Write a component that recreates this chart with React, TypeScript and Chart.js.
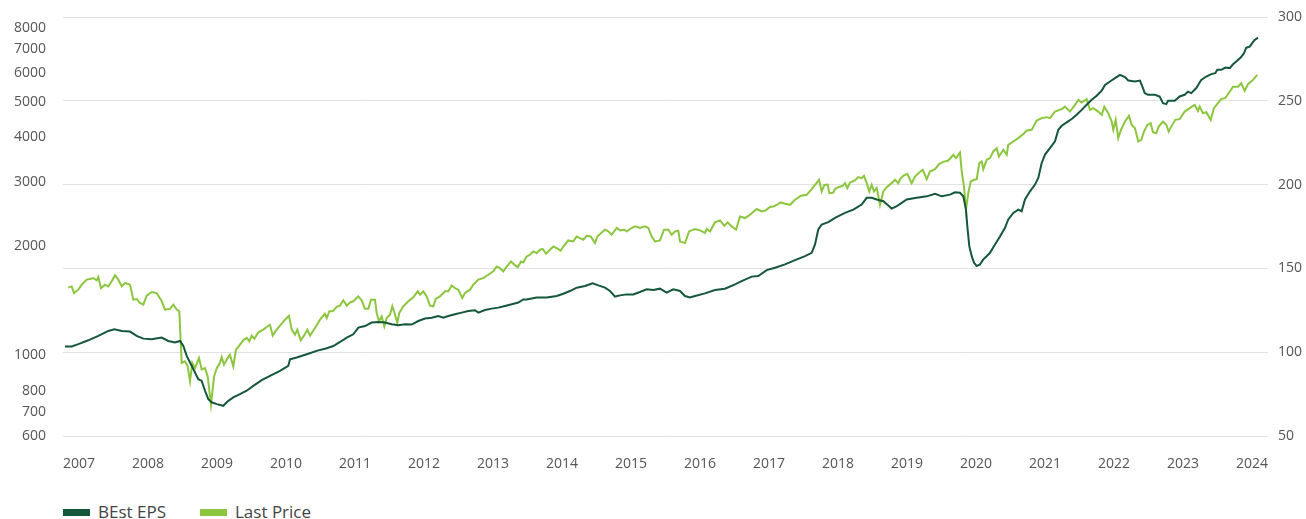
import React, { useEffect, useRef } from "react";
import { Chart, registerables } from "chart.js";

Chart.register(...registerables);

const YEAR_TICKS = [2007, 2008, 2009, 2010, 2011, 2012, 2013, 2014, 2015, 2016, 2017, 2018, 2019, 2020, 2021, 2022, 2023, 2024];
const LEFT_TICKS = [600, 700, 800, 1000, 2000, 3000, 4000, 5000, 6000, 7000, 8000];
const RIGHT_TICKS = [50, 100, 150, 200, 250, 300];
const SERIES_NAMES = ["BEst EPS", "Last Price"];
const SERIES_COLORS = ["#15573a", "#8cc63f"];

// BEst EPS (right axis)
const EPS_DATES = [
  2006.797, 2006.894, 2006.99, 2007.135, 2007.28, 2007.425, 2007.512, 2007.619, 2007.739, 2007.836,
  2007.932, 2008.054, 2008.199, 2008.294, 2008.391, 2008.464, 2008.512, 2008.561, 2008.609, 2008.681,
  2008.729, 2008.778, 2008.826, 2008.874, 2008.923, 2008.996, 2009.091, 2009.164, 2009.236, 2009.333,
  2009.43, 2009.526, 2009.648, 2009.768, 2009.913, 2010.033, 2010.058, 2010.155, 2010.3, 2010.445,
  2010.59, 2010.686, 2010.783, 2010.88, 2010.975, 2011.048, 2011.145, 2011.242, 2011.338, 2011.435,
  2011.532, 2011.628, 2011.725, 2011.822, 2011.917, 2012.014, 2012.112, 2012.207, 2012.28, 2012.352,
  2012.449, 2012.546, 2012.642, 2012.739, 2012.787, 2012.884, 2012.981, 2013.077, 2013.174, 2013.271,
  2013.367, 2013.439, 2013.488, 2013.633, 2013.778, 2013.923, 2014.019, 2014.116, 2014.213, 2014.333,
  2014.445, 2014.526, 2014.623, 2014.696, 2014.768, 2014.841, 2014.938, 2015.033, 2015.13, 2015.228,
  2015.323, 2015.42, 2015.517, 2015.613, 2015.71, 2015.783, 2015.855, 2015.928, 2016.072, 2016.217,
  2016.362, 2016.507, 2016.604, 2016.749, 2016.845, 2016.967, 2017.087, 2017.232, 2017.377, 2017.522,
  2017.619, 2017.667, 2017.714, 2017.764, 2017.859, 2017.957, 2018.101, 2018.222, 2018.343, 2018.416,
  2018.488, 2018.561, 2018.657, 2018.729, 2018.778, 2018.851, 2018.923, 2018.996, 2019.141, 2019.286,
  2019.406, 2019.503, 2019.623, 2019.696, 2019.768, 2019.816, 2019.855, 2019.874, 2019.903, 2019.938,
  2019.971, 2020.01, 2020.058, 2020.106, 2020.155, 2020.203, 2020.275, 2020.348, 2020.42, 2020.468,
  2020.541, 2020.613, 2020.662, 2020.71, 2020.783, 2020.855, 2020.903, 2020.952, 2021.0, 2021.072,
  2021.145, 2021.193, 2021.242, 2021.314, 2021.387, 2021.459, 2021.532, 2021.604, 2021.677, 2021.749,
  2021.822, 2021.87, 2021.942, 2022.014, 2022.087, 2022.159, 2022.207, 2022.304, 2022.377, 2022.42,
  2022.445, 2022.493, 2022.59, 2022.662, 2022.71, 2022.758, 2022.783, 2022.88, 2022.952, 2023.025,
  2023.072, 2023.12, 2023.193, 2023.265, 2023.338, 2023.41, 2023.468, 2023.497, 2023.555, 2023.613,
  2023.677, 2023.725, 2023.772, 2023.836, 2023.884, 2023.917, 2023.967, 2024.0, 2024.039, 2024.087,
];
const EPS_VALUES = [
  103.4, 103.4, 104.8, 107.1, 109.7, 112.7, 113.7, 112.7, 112.3, 109.7,
  108.1, 107.7, 108.7, 106.7, 105.8, 106.7, 103.7, 97.8, 93.9, 87.9,
  83.9, 82.9, 77.0, 72.0, 70.1, 69.0, 68.0, 71.0, 73.0, 75.0,
  77.0, 79.9, 83.3, 85.9, 88.9, 91.8, 95.8, 96.8, 98.8, 100.8,
  102.4, 103.7, 106.1, 108.7, 110.7, 114.7, 115.6, 117.7, 118.0, 117.7,
  116.7, 116.1, 116.7, 116.5, 118.6, 120.1, 120.6, 121.6, 120.6, 121.6,
  122.6, 123.6, 124.6, 125.0, 123.6, 125.2, 126.0, 126.6, 127.6, 128.6,
  129.6, 131.5, 131.5, 132.6, 132.6, 133.5, 134.9, 136.5, 138.5, 139.5,
  141.1, 139.9, 138.5, 136.5, 133.2, 133.9, 134.5, 134.5, 135.9, 137.5,
  137.1, 137.9, 135.5, 137.5, 136.5, 133.5, 132.6, 133.5, 135.1, 137.1,
  137.9, 140.5, 142.4, 145.1, 145.4, 149.0, 150.4, 152.4, 154.9, 157.3,
  159.3, 164.3, 173.2, 176.2, 177.6, 180.2, 183.1, 185.1, 188.1, 192.1,
  192.1, 191.1, 190.1, 187.5, 185.7, 187.1, 189.1, 191.1, 192.1, 193.0,
  194.5, 193.0, 194.0, 195.4, 195.1, 193.0, 185.1, 175.2, 163.3, 157.3,
  153.4, 151.4, 152.4, 155.4, 157.3, 159.3, 164.3, 169.0, 174.2, 179.2,
  183.1, 185.1, 184.1, 191.1, 196.0, 200.0, 204.0, 212.9, 217.9, 221.8,
  225.8, 232.7, 235.1, 237.1, 239.1, 241.7, 244.6, 247.6, 250.6, 253.0,
  256.1, 259.5, 261.5, 263.5, 265.5, 264.1, 262.1, 261.5, 262.1, 257.6,
  254.6, 253.6, 253.6, 252.6, 248.6, 248.0, 250.0, 250.0, 252.6, 253.6,
  255.5, 254.6, 257.6, 262.5, 264.5, 265.9, 266.5, 268.5, 268.5, 269.8,
  269.5, 271.8, 273.4, 275.8, 278.4, 281.7, 282.3, 284.3, 286.3, 287.7,
];

// Last Price (left axis)
const PRICE_DATES = [
  2006.845, 2006.894, 2006.928, 2006.99, 2007.039, 2007.112, 2007.159, 2007.207, 2007.257, 2007.28,
  2007.319, 2007.377, 2007.425, 2007.474, 2007.522, 2007.57, 2007.619, 2007.667, 2007.739, 2007.787,
  2007.836, 2007.884, 2007.932, 2007.981, 2008.054, 2008.126, 2008.199, 2008.246, 2008.319, 2008.367,
  2008.416, 2008.454, 2008.488, 2008.536, 2008.575, 2008.609, 2008.642, 2008.681, 2008.739, 2008.778,
  2008.826, 2008.865, 2008.913, 2008.957, 2008.996, 2009.043, 2009.068, 2009.101, 2009.141, 2009.188,
  2009.236, 2009.275, 2009.333, 2009.381, 2009.43, 2009.468, 2009.503, 2009.541, 2009.599, 2009.671,
  2009.72, 2009.768, 2009.807, 2009.865, 2009.913, 2009.986, 2010.043, 2010.083, 2010.13, 2010.164,
  2010.213, 2010.261, 2010.309, 2010.348, 2010.42, 2010.493, 2010.565, 2010.59, 2010.628, 2010.677,
  2010.735, 2010.783, 2010.83, 2010.88, 2010.928, 2010.975, 2011.048, 2011.097, 2011.145, 2011.193,
  2011.232, 2011.29, 2011.314, 2011.348, 2011.387, 2011.425, 2011.459, 2011.507, 2011.541, 2011.58,
  2011.613, 2011.642, 2011.7, 2011.772, 2011.845, 2011.909, 2011.942, 2011.99, 2012.039, 2012.087,
  2012.135, 2012.17, 2012.232, 2012.304, 2012.352, 2012.401, 2012.449, 2012.497, 2012.555, 2012.594,
  2012.667, 2012.714, 2012.787, 2012.859, 2012.932, 2013.004, 2013.054, 2013.101, 2013.149, 2013.199,
  2013.261, 2013.309, 2013.358, 2013.406, 2013.439, 2013.488, 2013.536, 2013.584, 2013.633, 2013.681,
  2013.72, 2013.768, 2013.826, 2013.874, 2013.923, 2013.981, 2014.019, 2014.091, 2014.164, 2014.213,
  2014.261, 2014.309, 2014.358, 2014.416, 2014.478, 2014.512, 2014.575, 2014.623, 2014.671, 2014.72,
  2014.793, 2014.841, 2014.899, 2014.938, 2015.01, 2015.058, 2015.13, 2015.203, 2015.251, 2015.3,
  2015.348, 2015.42, 2015.478, 2015.541, 2015.59, 2015.638, 2015.686, 2015.71, 2015.783, 2015.841,
  2015.928, 2016.0, 2016.072, 2016.097, 2016.145, 2016.217, 2016.29, 2016.352, 2016.401, 2016.459,
  2016.522, 2016.58, 2016.652, 2016.725, 2016.822, 2016.894, 2016.952, 2017.014, 2017.062, 2017.112,
  2017.174, 2017.232, 2017.304, 2017.377, 2017.464, 2017.546, 2017.619, 2017.725, 2017.764, 2017.801,
  2017.851, 2017.874, 2017.932, 2017.957, 2018.004, 2018.068, 2018.101, 2018.135, 2018.174, 2018.246,
  2018.294, 2018.343, 2018.377, 2018.416, 2018.454, 2018.488, 2018.522, 2018.561, 2018.609, 2018.657,
  2018.706, 2018.778, 2018.826, 2018.874, 2018.899, 2018.946, 2019.004, 2019.068, 2019.116, 2019.178,
  2019.228, 2019.286, 2019.333, 2019.406, 2019.468, 2019.526, 2019.599, 2019.671, 2019.71, 2019.768,
  2019.793, 2019.826, 2019.855, 2019.888, 2019.923, 2019.971, 2020.01, 2020.048, 2020.083, 2020.106,
  2020.155, 2020.203, 2020.251, 2020.3, 2020.333, 2020.396, 2020.445, 2020.468, 2020.541, 2020.613,
  2020.686, 2020.735, 2020.807, 2020.88, 2020.952, 2021.025, 2021.072, 2021.145, 2021.242, 2021.29,
  2021.362, 2021.435, 2021.483, 2021.532, 2021.604, 2021.652, 2021.7, 2021.772, 2021.822, 2021.859,
  2021.917, 2021.967, 2021.99, 2022.025, 2022.062, 2022.101, 2022.159, 2022.217, 2022.257, 2022.304,
  2022.352, 2022.396, 2022.435, 2022.483, 2022.532, 2022.565, 2022.613, 2022.648, 2022.71, 2022.758,
  2022.793, 2022.83, 2022.888, 2022.952, 2023.025, 2023.097, 2023.17, 2023.217, 2023.242, 2023.29,
  2023.338, 2023.401, 2023.449, 2023.507, 2023.555, 2023.613, 2023.662, 2023.725, 2023.797, 2023.845,
  2023.894, 2023.942, 2024.014, 2024.077,
];
const PRICE_VALUES = [
  1539, 1550, 1486, 1518, 1567, 1618, 1625, 1635, 1611, 1646,
  1533, 1567, 1550, 1601, 1662, 1618, 1550, 1584, 1567, 1425,
  1431, 1395, 1380, 1461, 1496, 1486, 1410, 1338, 1344, 1380,
  1338, 1324, 954, 964, 933, 849, 954, 923, 984, 915,
  923, 876, 732, 876, 923, 954, 990, 943, 974, 1005,
  933, 1038, 1071, 1101, 1118, 1094, 1134, 1111, 1158, 1178,
  1198, 1215, 1134, 1178, 1208, 1255, 1287, 1178, 1141, 1178,
  1101, 1134, 1178, 1134, 1191, 1255, 1303, 1268, 1324, 1324,
  1361, 1372, 1419, 1372, 1401, 1410, 1455, 1419, 1344, 1344,
  1425, 1425, 1310, 1242, 1281, 1203, 1268, 1295, 1366, 1295,
  1229, 1310, 1366, 1410, 1446, 1502, 1470, 1502, 1455, 1372,
  1366, 1431, 1455, 1502, 1502, 1558, 1533, 1518, 1440, 1486,
  1518, 1567, 1618, 1633, 1669, 1705, 1758, 1740, 1705, 1758,
  1816, 1778, 1751, 1816, 1805, 1874, 1894, 1935, 1915, 1956,
  1965, 1907, 1956, 1996, 1975, 1944, 1996, 2075, 2062, 2127,
  2104, 2084, 2137, 2127, 2040, 2127, 2183, 2221, 2197, 2151,
  2245, 2211, 2221, 2197, 2245, 2268, 2245, 2268, 2245, 2127,
  2062, 2075, 2221, 2221, 2151, 2197, 2207, 2062, 2040, 2197,
  2231, 2211, 2175, 2231, 2197, 2326, 2356, 2276, 2326, 2268,
  2221, 2415, 2391, 2441, 2532, 2494, 2510, 2564, 2574, 2601,
  2640, 2618, 2601, 2686, 2754, 2771, 2874, 3048, 2830, 2952,
  2957, 2801, 2812, 2874, 2910, 2934, 2984, 2892, 2996, 3035,
  3100, 3081, 3125, 2984, 2830, 2952, 2830, 2892, 2601, 2830,
  2910, 2984, 3048, 2984, 3061, 3125, 3166, 2984, 3112, 3193,
  3248, 3061, 3213, 3262, 3372, 3416, 3445, 3571, 3497, 3624,
  3213, 2921, 2521, 2801, 3015, 3048, 3061, 3388, 3423, 3262,
  3460, 3497, 3648, 3726, 3532, 3687, 3571, 3804, 3886, 3970,
  4078, 4166, 4184, 4439, 4507, 4535, 4507, 4699, 4771, 4849,
  4699, 4901, 5061, 4975, 5083, 4750, 4801, 4699, 4600, 4849,
  4651, 4411, 4184, 4459, 3970, 4184, 4411, 4573, 4318, 4225,
  3886, 3928, 4139, 4318, 4366, 4123, 4097, 4271, 4411, 4318,
  4139, 4271, 4459, 4479, 4699, 4801, 4901, 4720, 4849, 4651,
  4681, 4459, 4801, 4955, 5093, 5115, 5278, 5504, 5504, 5625,
  5357, 5589, 5745, 5929,
];

const FONT_FAMILY = "'Open Sans', 'Noto Sans', sans-serif";
const TICK_COLOR = "#555555";

export default function App() {
  const canvasRef = useRef<HTMLCanvasElement | null>(null);

  useEffect(() => {
    const canvas = canvasRef.current;
    if (!canvas) return;
    const tickFont = { family: FONT_FAMILY, size: 14 };
    const chart = new Chart(canvas, {
      type: "line",
      data: {
        datasets: [
          {
            label: SERIES_NAMES[0],
            data: EPS_DATES.map((x, i) => ({ x, y: EPS_VALUES[i] })),
            yAxisID: "yRight",
            borderColor: SERIES_COLORS[0],
            backgroundColor: SERIES_COLORS[0],
            borderWidth: 2,
            pointRadius: 0,
            tension: 0,
          },
          {
            label: SERIES_NAMES[1],
            data: PRICE_DATES.map((x, i) => ({ x, y: PRICE_VALUES[i] })),
            yAxisID: "yLeft",
            borderColor: SERIES_COLORS[1],
            backgroundColor: SERIES_COLORS[1],
            borderWidth: 2,
            pointRadius: 0,
            tension: 0,
          },
        ],
      },
      options: {
        animation: false,
        responsive: true,
        maintainAspectRatio: false,
        events: [],
        layout: { padding: { top: 17, left: 0, right: 0, bottom: 0 } },
        plugins: {
          legend: { display: false },
          tooltip: { enabled: false },
        },
        scales: {
          x: {
            type: "linear",
            min: 2006.768,
            max: 2024.232,
            grid: { display: false, drawTicks: false },
            border: { display: false },
            afterBuildTicks: (s: any) => {
              s.ticks = YEAR_TICKS.map((v) => ({ value: v }));
            },
            afterFit: (s: any) => {
              s.height = 44;
            },
            ticks: {
              autoSkip: false,
              maxRotation: 0,
              minRotation: 0,
              padding: 20,
              color: TICK_COLOR,
              font: tickFont,
              callback: (v: any) => String(v),
            },
          },
          yLeft: {
            type: "logarithmic",
            position: "left",
            min: 600,
            max: 8561,
            grid: { display: false, drawTicks: true, tickLength: 17, tickColor: "rgba(0,0,0,0)" },
            border: { display: false },
            afterBuildTicks: (s: any) => {
              s.ticks = LEFT_TICKS.map((v) => ({ value: v }));
            },
            afterFit: (s: any) => {
              s.width = 63;
            },
            ticks: {
              autoSkip: false,
              padding: 0,
              color: TICK_COLOR,
              font: tickFont,
              callback: (v: any) => String(v),
            },
          },
          yRight: {
            type: "linear",
            position: "right",
            min: 50,
            max: 300,
            grid: { color: "#e1e1e1", lineWidth: 1, drawTicks: true, tickLength: 10, tickColor: "rgba(0,0,0,0)" },
            border: { display: false },
            afterBuildTicks: (s: any) => {
              s.ticks = RIGHT_TICKS.map((v) => ({ value: v }));
            },
            afterFit: (s: any) => {
              s.width = 38;
            },
            ticks: {
              autoSkip: false,
              padding: 0,
              color: TICK_COLOR,
              font: tickFont,
              callback: (v: any) => String(v),
            },
          },
        },
      } as any,
    });
    return () => chart.destroy();
  }, []);

  const legendItem = (i: number, left: number) => (
    <div
      key={i}
      style={{
        position: "absolute",
        left,
        top: 501,
        height: 22,
        display: "flex",
        alignItems: "center",
        whiteSpace: "nowrap",
      }}
    >
      <span
        style={{
          display: "inline-block",
          width: 27,
          height: 7,
          background: SERIES_COLORS[i],
          marginRight: 8,
        }}
      />
      <span style={{ fontFamily: FONT_FAMILY, fontSize: 17, color: "#444444", lineHeight: "22px" }}>
        {SERIES_NAMES[i]}
      </span>
    </div>
  );

  return (
    <div
      style={{
        position: "fixed",
        left: 0,
        top: 0,
        width: 1306,
        height: 519,
        background: "#ffffff",
        overflow: "hidden",
      }}
    >
      <div style={{ position: "absolute", left: 0, top: 0, width: 1306, height: 480 }}>
        <canvas ref={canvasRef} />
      </div>
      {legendItem(0, 63)}
      {legendItem(1, 200)}
    </div>
  );
}
